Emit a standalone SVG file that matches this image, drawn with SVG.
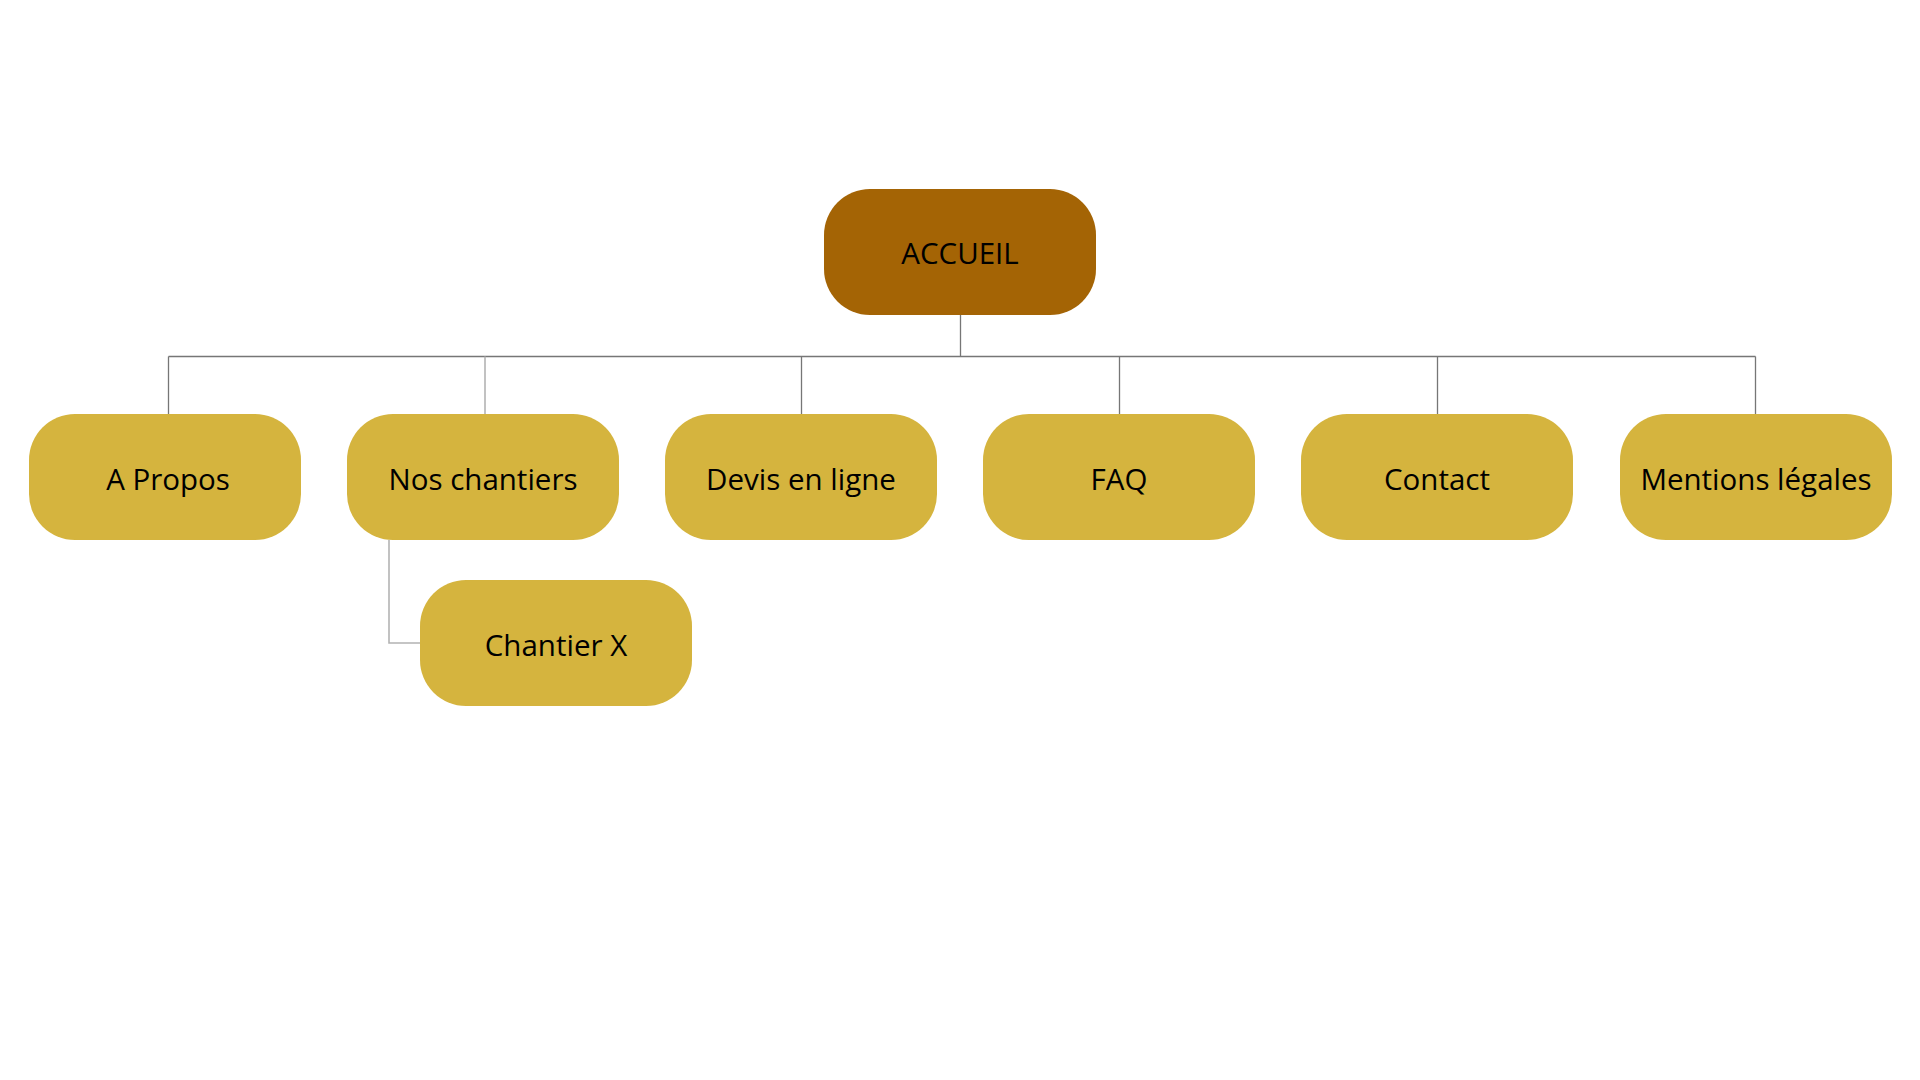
<svg xmlns="http://www.w3.org/2000/svg" width="1920" height="1080" viewBox="0 0 1920 1080">
<style>
.node rect{fill:#D5B43E}
#accueil rect{fill:#A46405}
text{font-family:"Open Sans","Noto Sans","Liberation Sans",sans-serif;font-size:29.5px;fill:#000;text-anchor:middle}
.c{fill:none;stroke:#767676;stroke-width:1.3}
.c2{fill:none;stroke:#b3b3b3;stroke-width:1.6}
</style>
<rect width="1920" height="1080" fill="#fff"/>
<g id="connectors">
<path class="c" d="M960.5 315V356.5M168.5 356.5H1755.5M168.5 356.5V414M801.5 356.5V414M1119.5 356.5V414M1437.5 356.5V414M1755.5 356.5V414"/>
<path class="c2" d="M485 356.5V414M389 540V643H420"/>
</g>
<g id="accueil" class="node"><rect x="824" y="189" width="272" height="126" rx="46"/><text x="960" y="264">ACCUEIL</text></g>
<g id="apropos" class="node"><rect x="29" y="414" width="272" height="126" rx="46"/><text x="168" y="490">A Propos</text></g>
<g id="nos-chantiers" class="node"><rect x="347" y="414" width="272" height="126" rx="46"/><text x="483" y="490">Nos chantiers</text></g>
<g id="devis" class="node"><rect x="665" y="414" width="272" height="126" rx="46"/><text x="801" y="490">Devis en ligne</text></g>
<g id="faq" class="node"><rect x="983" y="414" width="272" height="126" rx="46"/><text x="1119" y="490">FAQ</text></g>
<g id="contact" class="node"><rect x="1301" y="414" width="272" height="126" rx="46"/><text x="1437" y="490">Contact</text></g>
<g id="mentions" class="node"><rect x="1620" y="414" width="272" height="126" rx="46"/><text x="1756" y="490">Mentions légales</text></g>
<g id="chantier-x" class="node"><rect x="420" y="580" width="272" height="126" rx="46"/><text x="556" y="656">Chantier X</text></g>
</svg>
